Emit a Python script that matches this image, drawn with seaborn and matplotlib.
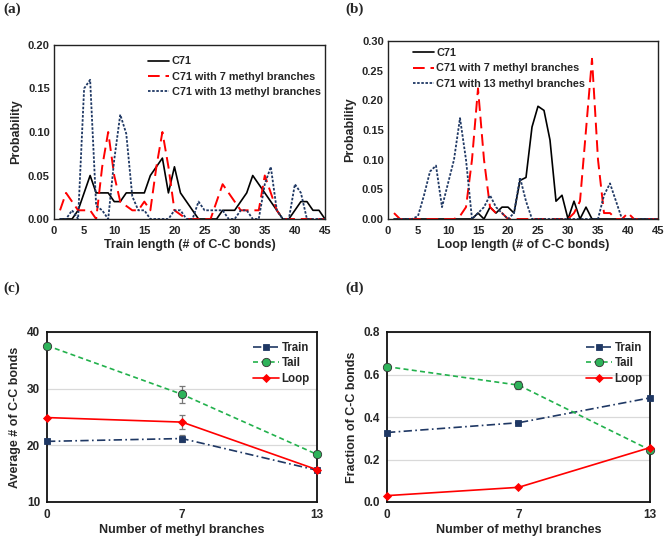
import numpy as np
import pandas as pd
import matplotlib
matplotlib.use("Agg")
import matplotlib.pyplot as plt
import seaborn as sns

# ---------------- data ----------------
length = list(range(1, 46))

train_c71 = [0, 0, 0, 0.01, 0.03, 0.05, 0.03, 0.03, 0.03, 0.02, 0.02, 0.03, 0.03, 0.03, 0.03,
             0.05, 0.06, 0.07, 0.03, 0.06, 0.03, 0.02, 0.01, 0, 0, 0, 0, 0.01, 0.01, 0.01,
             0.02, 0.03, 0.05, 0.04, 0.03, 0.02, 0.01, 0, 0, 0.01, 0.02, 0.02, 0.01, 0.01, 0]
train_m7 = [0.01, 0.03, 0.02, 0.01, 0.01, 0.01, 0, 0.06, 0.10, 0.05, 0.02, 0.015, 0.01, 0.01, 0.02,
            0.01, 0.06, 0.10, 0.06, 0.01, 0.005, 0, 0, 0, 0, 0, 0.02, 0.04, 0.03, 0.02,
            0.01, 0.01, 0.01, 0.01, 0.05, 0.03, 0.01, 0, 0, 0, 0, 0, 0, 0, 0]
train_m13 = [0, 0, 0.01, 0, 0.15, 0.16, 0.015, 0.01, 0, 0.068, 0.12, 0.098, 0.026, 0.01, 0.01,
             0, 0, 0, 0, 0.01, 0.01, 0, 0, 0.02, 0.01, 0.01, 0.01, 0.01, 0, 0,
             0.01, 0.01, 0, 0, 0.04, 0.06, 0.01, 0, 0, 0.04, 0.03, 0, 0, 0, 0]

loop_c71 = [0, 0, 0, 0, 0, 0, 0, 0, 0, 0, 0, 0, 0, 0, 0.01,
            0, 0.02, 0.01, 0.02, 0.02, 0.01, 0.065, 0.07, 0.155, 0.19, 0.183, 0.133, 0.03, 0.04, 0,
            0.03, 0, 0.02, 0, 0, 0, 0, 0, 0, 0, 0, 0, 0, 0, 0]
loop_m7 = [0.01, 0, 0, 0, 0, 0, 0, 0, 0, 0, 0, 0.005, 0.02, 0.10, 0.22,
           0.10, 0.02, 0.01, 0.01, 0, 0, 0, 0, 0, 0, 0, 0, 0, 0, 0,
           0.01, 0.03, 0.15, 0.27, 0.10, 0.01, 0.01, 0, 0, 0.01, 0, 0, 0, 0, 0]
loop_m13 = [0, 0, 0, 0, 0.005, 0.04, 0.08, 0.09, 0.02, 0.06, 0.10, 0.17, 0.10, 0, 0.01,
            0.02, 0.04, 0.02, 0.01, 0, 0.01, 0.07, 0.03, 0, 0, 0, 0, 0, 0, 0,
            0, 0, 0, 0, 0, 0.04, 0.06, 0.03, 0, 0, 0, 0, 0, 0, 0]

series_names = ["C71", "C71 with 7 methyl branches", "C71 with 13 methyl branches"]

branches = ["0", "7", "13"]
avg_train = [20.7, 21.2, 15.6]
avg_tail = [37.6, 29.0, 18.4]
avg_loop = [24.9, 24.1, 15.7]
err_train = [0, 0.7, 0]
err_tail = [0, 1.45, 0]
err_loop = [0, 1.2, 0]

frac_train = [0.327, 0.373, 0.49]
frac_tail = [0.637, 0.55, 0.245]
frac_loop = [0.03, 0.069, 0.256]
err_frac_tail = [0, 0.02, 0]

# ---------------- style ----------------
sns.set_style("white")
plt.rcParams['font.family'] = ['Liberation Sans', 'DejaVu Sans']
plt.rcParams['font.weight'] = 'bold'
plt.rcParams['axes.labelweight'] = 'bold'

NAVY = "#1F3864"
RED = "#FF0000"
GREEN = "#2EB35A"

fig = plt.figure(figsize=(6.66, 5.4), dpi=100)
W, H = 666, 540


def add_ax(l, r, t, b):
    return fig.add_axes([l / W, 1 - b / H, (r - l) / W, (b - t) / H])


axA = add_ax(54, 325, 45, 219)
axB = add_ax(388, 658, 41, 219)
axC = add_ax(47, 317, 332, 502)
axD = add_ax(387, 650, 332, 502)

styles = [dict(color="black", lw=1.2, ls="-"),
          dict(color=RED, lw=1.4, ls=(0, (6, 3))),
          dict(color=NAVY, lw=1.3, ls=(0, (1.4, 0.9)))]


def dist_panel(ax, ys, ymax, yticks, xlabel, leg_anchor):
    for y, name, st in zip(ys, series_names, styles):
        df = pd.DataFrame({"x": length, "y": y})
        sns.lineplot(data=df, x="x", y="y", ax=ax, label=name, color=st["color"],
                     linewidth=st["lw"], linestyle=st["ls"])
    ax.set_xlim(0, 45)
    ax.set_ylim(0, ymax)
    ax.set_xticks(range(0, 46, 5))
    ax.set_yticks(yticks)
    ax.set_yticklabels([f"{v:.2f}" for v in yticks])
    ax.set_xlabel(xlabel, fontsize=9, fontweight='bold', labelpad=2)
    ax.set_ylabel("Probability", fontsize=9, fontweight='bold', labelpad=4)
    ax.tick_params(direction='in', length=3, width=0.8, labelsize=8, pad=3)
    ax.tick_params(axis='x', pad=5)
    for s in ax.spines.values():
        s.set_linewidth(1.0)
        s.set_color("#222222")
    leg = ax.legend(loc="upper left", bbox_to_anchor=leg_anchor, frameon=False,
                    fontsize=7.8, handlelength=2.0, labelspacing=0.5,
                    handletextpad=0.2, borderaxespad=0)
    for t in leg.get_texts():
        t.set_fontweight('bold')


dist_panel(axA, [train_c71, train_m7, train_m13], 0.20, [0, 0.05, 0.10, 0.15, 0.20],
           "Train length (# of C-C bonds)", (0.33, 0.96))
dist_panel(axB, [loop_c71, loop_m7, loop_m13], 0.30, [0, 0.05, 0.10, 0.15, 0.20, 0.25, 0.30],
           "Loop length (# of C-C bonds)", (0.075, 0.985))


def summary_panel(ax, tr, ta, lo, errs, ylim, yticks, yfmt, ylabel):
    specs = [("Train", tr, NAVY, (0, (5, 2, 1, 2)), "s", NAVY, 5),
             ("Tail", ta, "#22B14C", (0, (3, 2)), "o", GREEN, 6),
             ("Loop", lo, RED, "-", "D", RED, 4)]
    pos = np.arange(len(branches))
    for (name, vals, c, ls, mk, mfc, ms), e in zip(specs, errs):
        if e is not None:
            ax.errorbar(pos, vals, yerr=e, fmt="none", ecolor="#777777",
                        elinewidth=0.9, capsize=2, capthick=0.9, zorder=2)
        df = pd.DataFrame({"b": branches, "v": vals})
        sns.lineplot(data=df, x="b", y="v", ax=ax, label=name, color=c, linestyle=ls,
                     linewidth=1.2, marker=mk, markersize=ms, markerfacecolor=mfc,
                     markeredgecolor="#333333" if mk == "o" else c, markeredgewidth=0.6,
                     zorder=3, sort=False, clip_on=False)
    ax.set_xlim(0, 2)
    ax.set_ylim(*ylim)
    ax.set_yticks(yticks)
    ax.set_yticklabels([yfmt.format(v) for v in yticks])
    ax.yaxis.grid(True, color="#D9D9D9", linewidth=0.9)
    ax.set_axisbelow(True)
    ax.set_xlabel("Number of methyl branches", fontsize=9, fontweight='bold', labelpad=2)
    ax.set_ylabel(ylabel, fontsize=9, fontweight='bold', labelpad=4)
    ax.tick_params(axis='y', length=0, labelsize=8.5, pad=5)
    ax.tick_params(axis='x', direction='inout', length=4, width=0.8, labelsize=8.5, pad=3)
    for s in ax.spines.values():
        s.set_linewidth(1.3)
        s.set_color("#111111")
    leg = ax.legend(loc="upper right", bbox_to_anchor=(0.99, 0.97), frameon=False,
                    fontsize=8.3, handlelength=2.3, labelspacing=0.3,
                    handletextpad=0.2, borderaxespad=0)
    for t in leg.get_texts():
        t.set_fontweight('bold')


summary_panel(axC, avg_train, avg_tail, avg_loop, [err_train, err_tail, err_loop],
              (10, 40), [10, 20, 30, 40], "{:.0f}", "Average # of C-C bonds")
summary_panel(axD, frac_train, frac_tail, frac_loop, [None, err_frac_tail, None],
              (0, 0.8), [0, 0.2, 0.4, 0.6, 0.8], "{:.1f}", "Fraction of C-C bonds")

for lab, x, y in [("(a)", 3, 3), ("(b)", 345, 3), ("(c)", 3, 282), ("(d)", 345, 282)]:
    fig.text(x / W, 1 - y / H, lab, ha='left', va='top', fontsize=11, fontweight='bold',
             family=['Liberation Serif', 'DejaVu Serif'])

fig.savefig("out.png", dpi=100)
